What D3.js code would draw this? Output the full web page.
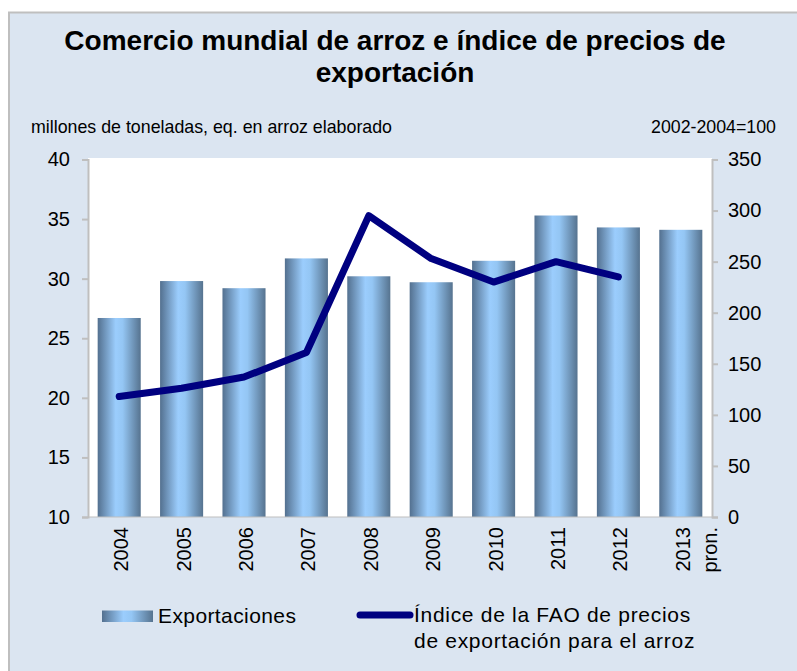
<!DOCTYPE html>
<html>
<head>
<meta charset="utf-8">
<script src="https://cdn.jsdelivr.net/npm/d3@7"></script>
<style>
  body { margin: 0; background: #fff; }
  svg { display: block; font-family: "Liberation Sans", Arial, sans-serif; }
</style>
</head>
<body>
<div id="chart"></div>
<script>
// ===== Data =====
const years = ["2004", "2005", "2006", "2007", "2008", "2009", "2010", "2011", "2012", "2013"];
const exportaciones = [26.7, 29.8, 29.2, 31.7, 30.2, 29.7, 31.5, 35.3, 34.3, 34.1];
const indiceFAO = [118, 126, 137, 161, 295, 253, 230, 250, 235, null];
const leftTicks = [10, 15, 20, 25, 30, 35, 40];
const rightTicks = [0, 50, 100, 150, 200, 250, 300, 350];

const W = 797, H = 671;
const plot = {left: 88, right: 712, top: 158, bottom: 517};

const svg = d3.select("#chart").append("svg")
    .attr("width", W)
    .attr("height", H);

// gradient for the bars
const defs = svg.append("defs");
const grad = defs.append("linearGradient")
    .attr("id", "barGrad")
    .attr("x1", "0%").attr("x2", "100%")
    .attr("y1", "0%").attr("y2", "0%");
grad.append("stop").attr("offset", "0%").attr("stop-color", "#53708f");
grad.append("stop").attr("offset", "42%").attr("stop-color", "#9bcdfd");
grad.append("stop").attr("offset", "58%").attr("stop-color", "#94c6f4");
grad.append("stop").attr("offset", "100%").attr("stop-color", "#56738f");

// panel
svg.append("rect")
    .attr("x", 9).attr("y", 12.5)
    .attr("width", W).attr("height", H)
    .attr("fill", "#dbe5f1")
    .attr("stroke", "#bfbfbf")
    .attr("stroke-width", 2);

// plot area
svg.append("rect")
    .attr("x", plot.left).attr("y", plot.top)
    .attr("width", plot.right - plot.left)
    .attr("height", plot.bottom - plot.top)
    .attr("fill", "#fff");

// ===== Scales =====
const x = d3.scaleBand()
    .domain(years)
    .range([plot.left, plot.right])
    .paddingInner(0.31)
    .paddingOuter(0.155);

const yL = d3.scaleLinear().domain([10, 40]).range([plot.bottom, 159.5]);
const yR = d3.scaleLinear().domain([0, 350]).range([plot.bottom, 159.5]);

// ===== Title =====
const title = svg.append("text")
    .attr("text-anchor", "middle")
    .attr("font-weight", "bold")
    .attr("font-size", 28)
    .attr("fill", "#000");
title.append("tspan").attr("x", 395).attr("y", 50)
    .text("Comercio mundial de arroz e índice de precios de");
title.append("tspan").attr("x", 395).attr("y", 82)
    .text("exportación");

svg.append("text")
    .attr("x", 31).attr("y", 133)
    .attr("font-size", 19)
    .attr("font-family", "'Liberation Sans Narrow', 'Arial Narrow', 'Liberation Sans', sans-serif")
    .attr("textLength", 361)
    .attr("lengthAdjust", "spacingAndGlyphs")
    .text("millones de toneladas, eq. en arroz elaborado");

svg.append("text")
    .attr("x", 776).attr("y", 133)
    .attr("text-anchor", "end")
    .attr("font-size", 19)
    .attr("font-family", "'Liberation Sans Narrow', 'Arial Narrow', 'Liberation Sans', sans-serif")
    .attr("textLength", 125)
    .attr("lengthAdjust", "spacingAndGlyphs")
    .text("2002-2004=100");

// ===== Bars =====
svg.selectAll("rect.bar")
    .data(years.map((y, i) => ({year: y, value: exportaciones[i]})))
    .enter()
    .append("rect")
    .attr("class", "bar")
    .attr("x", d => x(d.year))
    .attr("width", x.bandwidth())
    .attr("y", d => yL(d.value))
    .attr("height", d => plot.bottom - yL(d.value))
    .attr("fill", "url(#barGrad)");

// ===== Line =====
const lineData = years.map((y, i) => ({year: y, value: indiceFAO[i]}));
const line = d3.line()
    .defined(d => d.value != null)
    .x(d => x(d.year) + x.bandwidth() / 2)
    .y(d => yR(d.value));

svg.append("path")
    .datum(lineData)
    .attr("d", line)
    .attr("fill", "none")
    .attr("stroke", "#000080")
    .attr("stroke-width", 7)
    .attr("stroke-linejoin", "round")
    .attr("stroke-linecap", "round");

// ===== Axes =====
const axisColor = "#bfbfbf";

const leftAxis = svg.append("g")
    .attr("transform", `translate(${plot.left},0)`)
    .call(d3.axisLeft(yL).tickValues(leftTicks).tickSize(6).tickPadding(12));
const rightAxis = svg.append("g")
    .attr("transform", `translate(${plot.right},0)`)
    .call(d3.axisRight(yR).tickValues(rightTicks).tickSize(6).tickPadding(10));

[leftAxis, rightAxis].forEach(g => {
    g.select(".domain").attr("stroke", axisColor).attr("stroke-width", 2);
    g.selectAll(".tick line").attr("stroke", axisColor).attr("stroke-width", 2);
    g.selectAll(".tick text")
        .attr("font-size", 20)
        .attr("font-family", "'Liberation Sans', Arial, sans-serif")
        .attr("fill", "#000");
});

// bottom axis line
svg.append("line")
    .attr("x1", plot.left).attr("x2", plot.right)
    .attr("y1", plot.bottom).attr("y2", plot.bottom)
    .attr("stroke", axisColor).attr("stroke-width", 1);

// x labels (rotated)
const xLabels = svg.append("g").selectAll("text")
    .data(years)
    .enter()
    .append("text")
    .attr("transform", d => `translate(${x(d) + x.bandwidth() / 2},527) rotate(-90)`)
    .attr("text-anchor", "end")
    .attr("font-size", 20)
    .attr("fill", "#000");
xLabels.append("tspan")
    .attr("x", 0).attr("dy", 9)
    .text(d => d);
xLabels.filter(d => d === "2013")
    .append("tspan")
    .attr("x", 0).attr("dy", 27)
    .text("pron.");

// ===== Legend =====
const legend = svg.append("g");
legend.append("rect")
    .attr("x", 102).attr("y", 610.5)
    .attr("width", 51).attr("height", 11.5)
    .attr("fill", "url(#barGrad)");
legend.append("text")
    .attr("x", 158).attr("y", 623)
    .attr("font-size", 21)
    .attr("letter-spacing", 0.4)
    .text("Exportaciones");

legend.append("line")
    .attr("x1", 360).attr("x2", 410)
    .attr("y1", 615).attr("y2", 615)
    .attr("stroke", "#000080")
    .attr("stroke-width", 7)
    .attr("stroke-linecap", "round");
const legText = legend.append("text")
    .attr("font-size", 21)
    .attr("letter-spacing", 0.7);
legText.append("tspan").attr("x", 414).attr("y", 622)
    .text("Índice de la FAO de precios");
legText.append("tspan").attr("x", 414).attr("y", 648)
    .text("de exportación para el arroz");
</script>
</body>
</html>
